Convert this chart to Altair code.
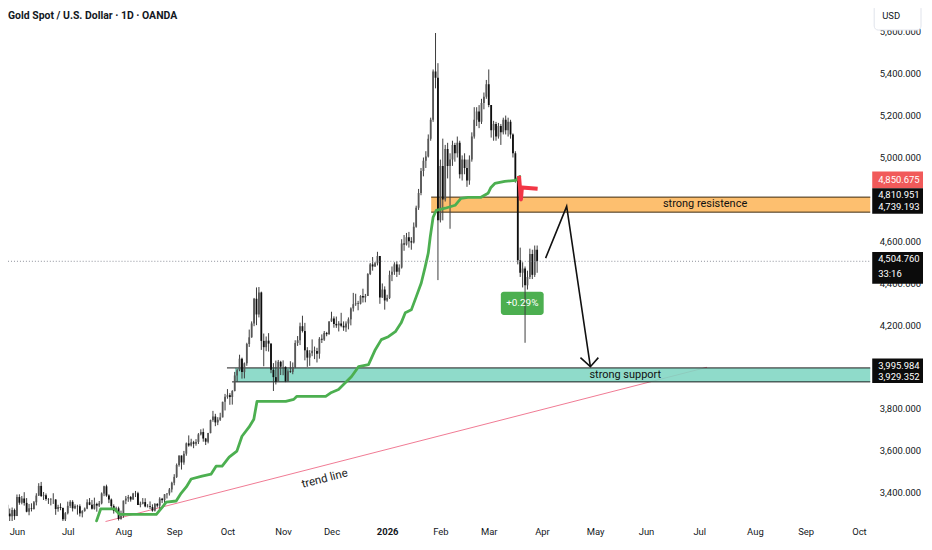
import altair as alt
import pandas as pd

TITLE = "Gold Spot / U.S. Dollar · 1D · OANDA"
FONT = "Roboto"
TXT = "#131722"

# ---- axis labels ----
month_idx = [0, 21, 44, 65, 87, 110, 130, 153, 175, 195, 217, 239, 260, 282, 305, 326, 348]
month_lbl = ["Jun", "Jul", "Aug", "Sep", "Oct", "Nov", "Dec", "2026", "Feb", "Mar",
             "Apr", "May", "Jun", "Jul", "Aug", "Sep", "Oct"]
# 4,000 and 4,800 sit under the price tags in the reference, so they are not shown
price_ticks = [3400, 3600, 3800, 4200, 4400, 4600, 5000, 5200, 5400, 5600]

# ---- daily candles (bar index -7 .. 215) ----
first_index = -7
first_open = 3300
close_vals = [
    3295, 3357, 3343, 3301, 3288, 3318, 3289,
    3380, 3353, 3373, 3352, 3310, 3326, 3323, 3355, 3387, 3433, 3385, 3388, 3370, 3369, 3368, 3368, 3323, 3332, 3328, 3274, 3303,
    3338, 3357, 3326, 3337, 3336, 3302, 3313, 3325, 3355, 3343, 3324, 3347, 3339, 3350, 3397, 3431, 3387, 3368, 3337, 3314, 3326, 3275, 3289,
    3363, 3373, 3380, 3368, 3397, 3398, 3342, 3348, 3356, 3335, 3336, 3332, 3315, 3347, 3339, 3372, 3365, 3393, 3397, 3416, 3448,
    3476, 3533, 3578, 3545, 3587, 3636, 3626, 3641, 3634, 3643, 3679, 3690, 3659, 3644, 3685, 3747, 3764, 3736, 3749, 3760, 3834, 3858,
    3866, 3857, 3886, 3960, 3985, 4040, 3976, 4018, 4110, 4142, 4208, 4326, 4251, 4356, 4125, 4095, 4126, 4112, 3987, 3952, 3930, 4025, 4002,
    4001, 3932, 3980, 3977, 4000, 4115, 4128, 4195, 4172, 4080, 4045, 4066, 4078, 4077, 4064, 4135, 4131, 4163, 4157, 4218,
    4232, 4206, 4199, 4208, 4197, 4189, 4208, 4228, 4280, 4300, 4304, 4302, 4339, 4332, 4339, 4444, 4490, 4480, 4495, 4530, 4332, 4370, 4318,
    4330, 4440, 4455, 4490, 4455, 4475, 4590, 4585, 4620, 4600, 4595, 4670, 4760, 4830, 4935, 4985, 5005, 5090, 5180, 5410, 5380, 4700,
    4960, 4800, 5040, 4960, 4990, 5060, 5020, 5070, 4920, 4990, 4950, 4890, 4990, 5100, 5180, 5220, 5170, 5260, 5290, 5350,
    5250, 5130, 5160, 5100, 5150, 5120, 5180, 5130, 5170, 5110, 5020, 4890, 4510, 4450, 4470, 4390, 4430, 4540, 4440, 4560, 4504.76,
]
high_vals = [
    3325, 3366, 3365, 3350, 3325, 3330, 3325,
    3392, 3393, 3385, 3403, 3375, 3347, 3350, 3361, 3398, 3446, 3452, 3404, 3397, 3375, 3375, 3398, 3370, 3343, 3350, 3330, 3308,
    3358, 3365, 3365, 3345, 3343, 3345, 3317, 3330, 3369, 3375, 3366, 3377, 3353, 3361, 3402, 3434, 3439, 3393, 3373, 3345, 3334, 3334, 3315,
    3363, 3385, 3390, 3385, 3400, 3409, 3405, 3358, 3375, 3374, 3346, 3359, 3345, 3351, 3351, 3379, 3376, 3394, 3398, 3423, 3453,
    3489, 3540, 3578, 3565, 3600, 3640, 3674, 3658, 3648, 3656, 3685, 3703, 3707, 3662, 3686, 3749, 3791, 3777, 3761, 3782, 3835, 3872,
    3895, 3876, 3890, 3977, 3991, 4059, 4045, 4022, 4116, 4179, 4218, 4330, 4380, 4382, 4360, 4160, 4146, 4162, 4096, 4019, 4031, 4034, 4030,
    4032, 4003, 3990, 4028, 4022, 4128, 4148, 4212, 4245, 4211, 4095, 4081, 4132, 4098, 4092, 4143, 4156, 4172, 4168, 4219,
    4264, 4242, 4241, 4219, 4259, 4218, 4218, 4237, 4285, 4354, 4350, 4316, 4343, 4374, 4349, 4448, 4497, 4525, 4502, 4550, 4525, 4399, 4385,
    4345, 4460, 4480, 4500, 4505, 4490, 4610, 4630, 4640, 4645, 4620, 4690, 4770, 4850, 4950, 5000, 5030, 5110, 5190, 5420, 5594, 5450,
    4990, 5090, 5060, 5070, 5020, 5080, 5070, 5100, 5080, 5010, 5020, 4990, 5010, 5120, 5240, 5240, 5250, 5280, 5310, 5370,
    5420, 5240, 5175, 5170, 5165, 5160, 5190, 5200, 5190, 5180, 5115, 5030, 4900, 4570, 4500, 4480, 4460, 4565, 4560, 4580, 4580,
]
low_vals = [
    3285, 3287, 3324, 3285, 3245, 3245, 3271,
    3290, 3343, 3345, 3339, 3307, 3293, 3311, 3320, 3340, 3385, 3380, 3366, 3362, 3347, 3340, 3347, 3295, 3310, 3317, 3265, 3260,
    3297, 3328, 3311, 3322, 3296, 3287, 3283, 3310, 3322, 3341, 3320, 3320, 3310, 3332, 3345, 3384, 3381, 3351, 3325, 3301, 3308, 3268, 3272,
    3281, 3346, 3357, 3358, 3367, 3380, 3342, 3331, 3345, 3331, 3330, 3323, 3310, 3311, 3330, 3321, 3351, 3351, 3373, 3387, 3402,
    3436, 3471, 3525, 3511, 3534, 3577, 3620, 3621, 3613, 3625, 3633, 3674, 3644, 3628, 3636, 3684, 3739, 3718, 3723, 3743, 3760, 3793,
    3849, 3820, 3821, 3884, 3930, 3980, 3945, 3946, 4006, 4096, 4140, 4195, 4200, 4237, 4082, 4004, 4076, 4074, 3971, 3886, 3917, 3929, 3962,
    3961, 3928, 3930, 3972, 3966, 3995, 4101, 4105, 4165, 4032, 4001, 4006, 4052, 4038, 4022, 4040, 4115, 4125, 4147, 4155,
    4216, 4188, 4187, 4170, 4190, 4173, 4168, 4180, 4199, 4265, 4292, 4271, 4299, 4308, 4309, 4340, 4439, 4460, 4478, 4485, 4302, 4330, 4274,
    4312, 4325, 4410, 4440, 4430, 4440, 4470, 4555, 4580, 4570, 4560, 4590, 4665, 4750, 4820, 4910, 4950, 5000, 5080, 5170, 5330, 4415,
    4690, 4700, 4790, 4900, 4660, 4960, 4980, 5000, 4900, 4890, 4920, 4860, 4870, 4980, 5090, 5150, 5140, 5160, 5230, 5280,
    5240, 5095, 5080, 5080, 5090, 5060, 5110, 5110, 5100, 5090, 5000, 4880, 4490, 4430, 4380, 4116, 4370, 4420, 4420, 4430, 4450,
]
assert len(close_vals) == len(high_vals) == len(low_vals) == 223

# ---- trailing indicator line (green) and its red flip ----
green_i = [32.9, 34.6, 40.3, 42.4, 57.6, 60.1, 61.7, 65.8, 67.9, 70.0, 72.0, 76.5, 80.2, 82.3, 84.8,
           87.7, 90.9, 93.0, 95.9, 97.9, 99.2, 111.1, 114.4, 115.6, 127.6, 130.0, 132.9, 135.8, 138.3,
           141.2, 145.3, 148.1, 150.6, 153.5, 156.4, 158.8, 160.5, 163.0, 165.0, 167.1, 168.7, 170.0,
           170.8, 172.0, 173.3, 177.0, 181.1, 183.5, 186.4, 191.8, 194.7, 195.9, 197.5, 201.6, 206.2, 207.8]
green_p = [3266, 3323, 3323, 3297, 3297, 3332, 3356, 3361, 3399, 3428, 3466, 3480, 3489, 3527, 3527,
           3570, 3599, 3670, 3713, 3751, 3836, 3836, 3846, 3860, 3860, 3879, 3893, 3926, 3955,
           4002, 4012, 4083, 4131, 4145, 4169, 4211, 4259, 4273, 4335, 4401, 4477, 4544,
           4620, 4715, 4748, 4758, 4772, 4805, 4810, 4810, 4829, 4857, 4876, 4886, 4891, 4910]
red_i = [207.5, 208.3, 208.7, 215.2]
red_p = [4912, 4800, 4857, 4850.675]

# ---- drawn levels / annotations ----
last_price = 4504.76
res_top, res_bot = 4810.951, 4739.193
sup_top, sup_bot = 3995.984, 3929.352
indicator_price = 4850.675
trend_i = [36.6, 285.2]
trend_p = [3263, 3999]
path_i = [218.5, 227.2, 237.0]
path_p = [4520, 4767, 4002]
head_i = [232.9, 237.0, 240.3]
head_p = [4045, 4002, 4045]

# ---------------------------------------------------------------
XDOM = [-3.704, 352.67]
YDOM = [3266.0, 5707.8]
xs = alt.Scale(domain=XDOM, nice=False, zero=False)
ys = alt.Scale(domain=YDOM, nice=False, zero=False)

label_expr = ("[" + ",".join("'%s'" % m for m in month_lbl) + "][indexof(["
              + ",".join(str(v) for v in month_idx) + "], datum.value)]")
xaxis = alt.Axis(values=month_idx, labelExpr=label_expr, title=None, grid=False, domain=False,
                 ticks=False, tickSize=0, labelPadding=11, labelBaseline="middle", labelFont=FONT,
                 labelFontSize=9.5, labelColor=TXT, labelFlush=False, labelOverlap=False,
                 labelFontWeight={"condition": {"test": "datum.value == 153", "value": "bold"},
                                  "value": "normal"},
                 zindex=0)
yaxis = alt.Axis(orient="right", values=price_ticks, format=",.3f", title=None, grid=False,
                 domain=False, ticks=False, tickSize=0, labelPadding=9, labelAlign="left",
                 labelBaseline="middle", labelFont=FONT, labelFontSize=9.5, labelColor=TXT,
                 labelFlush=False, labelOverlap=False, zindex=0)


def X(f):
    return alt.X(f, type="quantitative", scale=xs, axis=xaxis, title=None)


def Y(f):
    return alt.Y(f, type="quantitative", scale=ys, axis=yaxis, title=None)


n = len(close_vals)
opens = [first_open] + close_vals[:-1]
rows = []
for k in range(n):
    o, c = opens[k], close_vals[k]
    rows.append(dict(i=first_index + k, o=o, c=c,
                     h=max(high_vals[k], o, c), l=min(low_vals[k], o, c)))
candles = pd.DataFrame(rows)

UP, DN, WICK = "#575757", "#0e0e0e", "#3c3c3c"

wicks = alt.Chart(candles).mark_rule(strokeWidth=1, color=WICK, clip=True).encode(
    x=X("i"), y=Y("l"), y2="h")
bodies = alt.Chart(candles).mark_rule(strokeWidth=1.8, strokeCap="butt", clip=True).encode(
    x=X("i"), y=Y("o"), y2="c",
    color=alt.condition("datum.c >= datum.o", alt.value(UP), alt.value(DN)))

# bands
bands = pd.DataFrame([
    dict(i=90.1, i2=XDOM[1], p=sup_top, p2=sup_bot, col="#7fd6c3"),
    dict(i=171.2, i2=XDOM[1], p=res_top, p2=res_bot, col="#fdb65b"),
])
band_rect = alt.Chart(bands).mark_rect(opacity=0.88).encode(
    x=X("i"), x2="i2", y=Y("p"), y2="p2", color=alt.Color("col:N", scale=None))
borders = pd.DataFrame([
    dict(i=86.8, i2=XDOM[1], p=sup_top, col="#1b1b1b"),
    dict(i=88.9, i2=XDOM[1], p=sup_bot, col="#1b1b1b"),
    dict(i=171.2, i2=XDOM[1], p=res_top, col="#3a2a12"),
    dict(i=171.2, i2=XDOM[1], p=res_bot, col="#3a2a12"),
])
border_rules = alt.Chart(borders).mark_rule(strokeWidth=1).encode(
    x=X("i"), x2="i2", y=Y("p"), color=alt.Color("col:N", scale=None))

trend = alt.Chart(pd.DataFrame(dict(i=[trend_i[0]], i2=[trend_i[1]], p=[trend_p[0]], p2=[trend_p[1]]))
                  ).mark_rule(color="#f07a93", strokeWidth=1).encode(
    x=X("i"), x2="i2", y=Y("p"), y2="p2")

green = alt.Chart(pd.DataFrame(dict(i=green_i, p=green_p, k=list(range(len(green_i)))))).mark_line(
    color="#4caf50", strokeWidth=2.8, strokeJoin="round", strokeCap="round").encode(
    x=X("i"), y=Y("p"), order="k:Q")
red = alt.Chart(pd.DataFrame(dict(i=red_i, p=red_p, k=list(range(len(red_i)))))).mark_line(
    color="#f23645", strokeWidth=4, strokeJoin="round").encode(
    x=X("i"), y=Y("p"), order="k:Q")

price_line = alt.Chart(pd.DataFrame(dict(i=[XDOM[0]], i2=[XDOM[1]], p=[last_price]))).mark_rule(
    color="#8c8f99", strokeWidth=1, strokeDash=[1, 2]).encode(x=X("i"), x2="i2", y=Y("p"))

path = alt.Chart(pd.DataFrame(dict(i=path_i, p=path_p, k=[0, 1, 2]))).mark_line(
    color="#111111", strokeWidth=1.6).encode(x=X("i"), y=Y("p"), order="k:Q")
head = alt.Chart(pd.DataFrame(dict(i=head_i, p=head_p, k=[0, 1, 2]))).mark_line(
    color="#111111", strokeWidth=1.6).encode(x=X("i"), y=Y("p"), order="k:Q")

# +0.29% badge
badge = pd.DataFrame(dict(i=[200.0], i2=[217.7], p=[4360], p2=[4249], ti=[208.85], tp=[4304], t=["+0.29%"]))
badge_box = alt.Chart(badge).mark_rect(color="#4caf50", cornerRadius=3).encode(
    x=X("i"), x2="i2", y=Y("p"), y2="p2")
badge_txt = alt.Chart(badge).mark_text(color="white", font=FONT, fontSize=10).encode(
    x=X("ti"), y=Y("tp"), text="t:N")

res_txt = alt.Chart(pd.DataFrame(dict(i=[284.4], p=[4776.7], t=["strong resistence"]))).mark_text(
    font=FONT, fontSize=11, color="#111111", align="center", baseline="middle").encode(
    x=X("i"), y=Y("p"), text="t:N")
sup_txt = alt.Chart(pd.DataFrame(dict(i=[236.6], p=[3964.4], t=["strong support"]))).mark_text(
    font=FONT, fontSize=11, color="#111111", align="left", baseline="middle").encode(
    x=X("i"), y=Y("p"), text="t:N")
trend_txt = alt.Chart(pd.DataFrame(dict(i=[127.2], p=[3465.6], t=["trend line"]))).mark_text(
    font=FONT, fontSize=11.5, color="#222222", align="center", baseline="middle", angle=345.6).encode(
    x=X("i"), y=Y("p"), text="t:N")

# price-scale tags in the right gutter
tags = pd.DataFrame([
    dict(p=4933.5, p2=4852.7, col="#f15a5a"),
    dict(p=4852.7, p2=4732.0, col="#0b0b0b"),
    dict(p=4548.7, p2=4397.0, col="#0b0b0b"),
    dict(p=4040.4, p2=3924.0, col="#0b0b0b"),
])
tag_box = alt.Chart(tags).mark_rect().encode(
    x=alt.value(868), x2=alt.value(919), y=Y("p"), y2="p2", color=alt.Color("col:N", scale=None))
tag_text = pd.DataFrame([
    dict(p=4893.0, t=f"{indicator_price:,.3f}"),
    dict(p=4820.5, t=f"{res_top:,.3f}"),
    dict(p=4765.0, t=f"{res_bot:,.3f}"),
    dict(p=4514.0, t=f"{last_price:,.3f}"),
    dict(p=4445.0, t="33:16"),
    dict(p=4006.0, t=f"{sup_top:,.3f}"),
    dict(p=3953.0, t=f"{sup_bot:,.3f}"),
])
tag_txt = alt.Chart(tag_text).mark_text(font=FONT, fontSize=9.5, color="white", align="left",
                                        baseline="middle").encode(
    x=alt.value(874), y=Y("p"), text="t:N")

usd_box = alt.Chart(pd.DataFrame(dict(t=["USD"]))).mark_rect(
    fill="white", stroke="#e0e3eb", strokeWidth=1, cornerRadius=4).encode(
    x=alt.value(870), x2=alt.value(917), y=alt.value(-5), y2=alt.value(21))
usd_txt = alt.Chart(pd.DataFrame(dict(t=["USD"]))).mark_text(
    font=FONT, fontSize=9.5, color=TXT, align="left", baseline="middle").encode(
    x=alt.value(878), y=alt.value(7), text="t:N")
title_txt = alt.Chart(pd.DataFrame(dict(t=[TITLE]))).mark_text(
    font=FONT, fontSize=10.5, fontWeight="bold", color=TXT, align="left", baseline="middle").encode(
    x=alt.value(0), y=alt.value(7), text="t:N")

chart = alt.layer(
    trend, band_rect, border_rules, badge_box, wicks, bodies, green, red, price_line,
    path, head, badge_txt, res_txt, sup_txt, trend_txt, tag_box, tag_txt, usd_box, usd_txt, title_txt,
).properties(
    width=866, height=514,
    padding={"left": 0, "top": 0, "right": 54, "bottom": 15},
    autosize=alt.AutoSizeParams(type="none"),
    background="white",
).configure_view(stroke=None)

chart.save("out.html", embed_options={"renderer": "svg", "actions": False})
